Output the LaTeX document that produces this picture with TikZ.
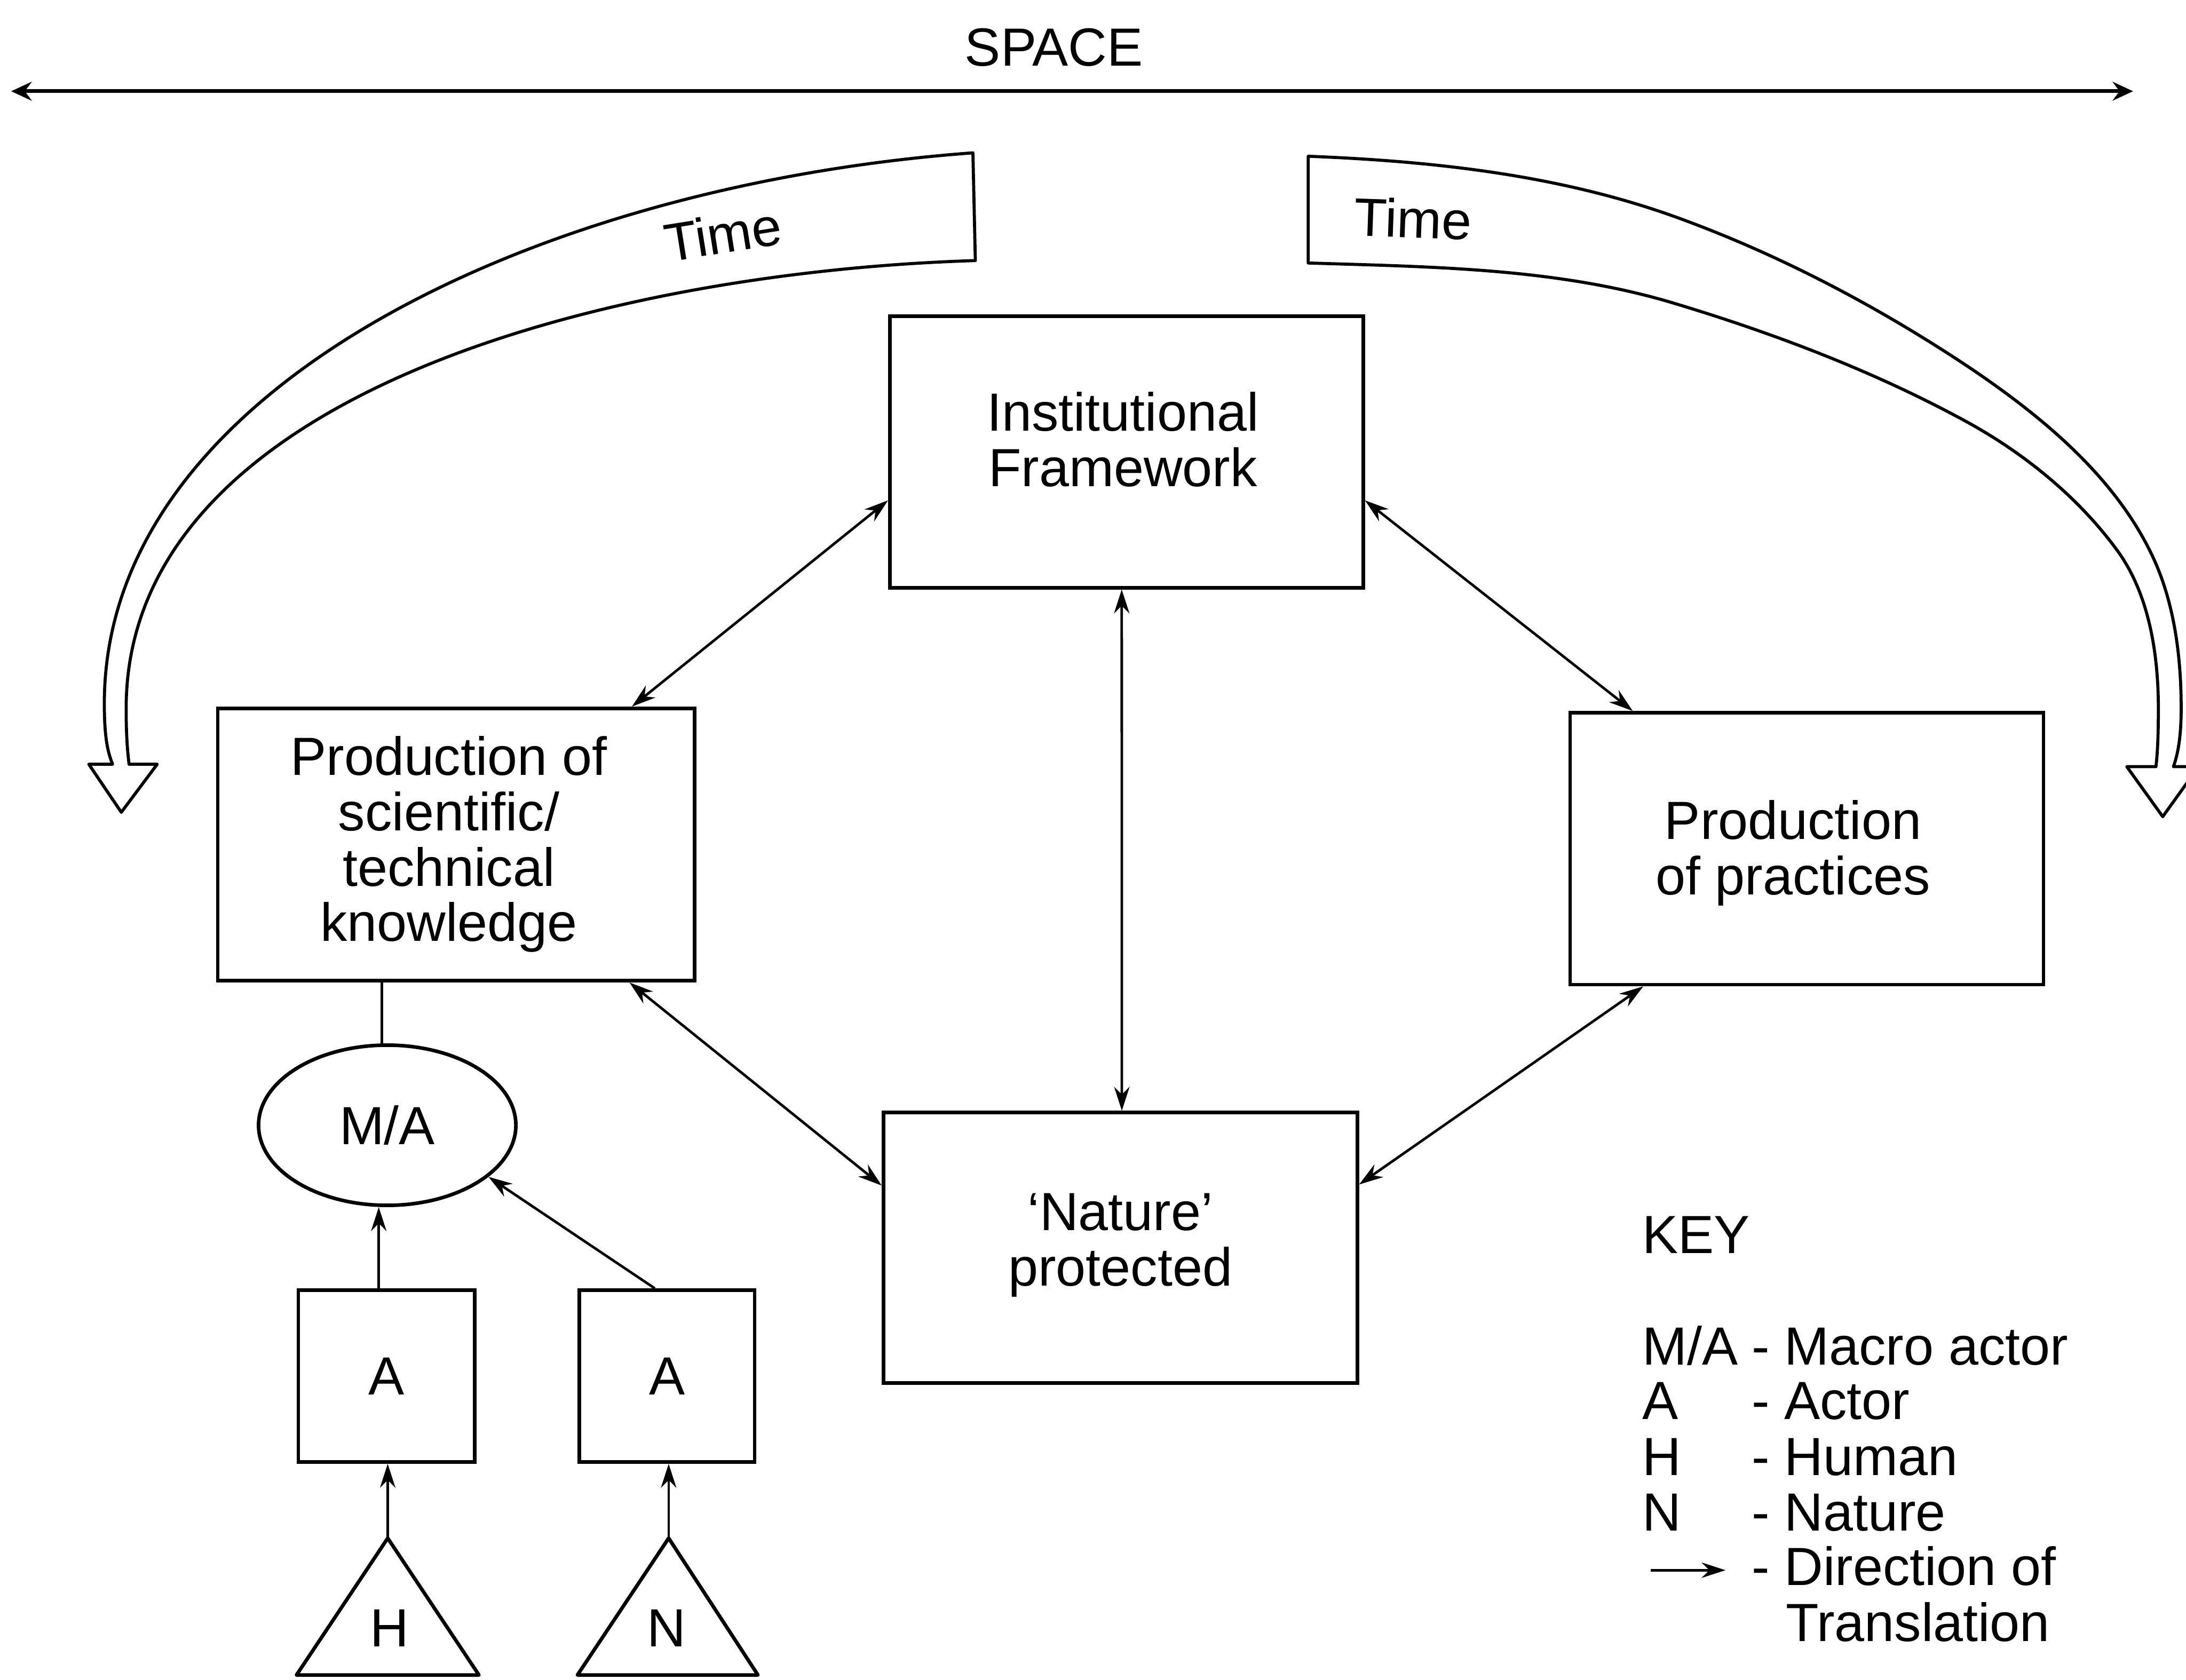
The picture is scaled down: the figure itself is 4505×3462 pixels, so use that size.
\documentclass[tikz,border=0pt]{standalone}
\usepackage{fontspec}
\setmainfont{Liberation Sans}
\usetikzlibrary{arrows.meta,calc,shapes.geometric}
\begin{document}
\begin{tikzpicture}[x=0.01cm,y=-0.01cm,
  every node/.style={font=\fontsize{31.5}{32.5}\selectfont},
  box/.style={draw,line width=2.1pt,inner sep=0pt},
  boxtext/.style={align=center,inner sep=0pt},
  link/.style={line width=1.5pt,{Stealth[length=14pt,width=9pt]}-{Stealth[length=14pt,width=9pt]}},
  flow/.style={line width=1.5pt,-{Stealth[length=14pt,width=9pt]}},
  band/.style={line width=1.8pt,line join=round},
  keyitem/.style={anchor=base west,inner sep=0pt}]
\useasboundingbox (0,0) rectangle (4505,3462);

% space axis
\node (space) at (2172,98) {SPACE};
\coordinate (sl) at (23,188);
\coordinate (sr) at (4396,188);
\draw[line width=2.2pt,{Stealth[length=12pt,width=11pt,inset=4pt]}-{Stealth[length=12pt,width=11pt,inset=4pt]}] (sl) -- (sr);

% main boxes and their captions
\node[box,minimum width=9.75cm,minimum height=5.59cm] (inst) at (2321.5,931.5) {};
\node[boxtext] (insttext) at (2314,906) {Institutional\\Framework};
\node[box,minimum width=9.82cm,minimum height=5.61cm] (sci) at (940,1740.5) {};
\node[boxtext] (scitext) at (925,1740) {Production of\\scientific/\\technical\\knowledge};
\node[box,minimum width=9.75cm,minimum height=5.60cm] (prac) at (3723.5,1749) {};
\node[boxtext] (practext) at (3695,1758) {Production\\of practices};
\node[box,minimum width=9.76cm,minimum height=5.57cm] (nat) at (2309,2571.5) {};
\node[boxtext] (nattext) at (2309,2566) {‘Nature’\\protected};

% links between the main boxes
\draw[link] ($(inst.north west)!0.676!(inst.south west)$) -- ($(sci.north west)!0.866!(sci.north east)$);
\draw[link] ($(inst.north east)!0.676!(inst.south east)$) -- ($(prac.north west)!0.135!(prac.north east)$);
\draw[link] ($(inst.south west)!0.49!(inst.south east)$) -- ($(nat.north west)!0.503!(nat.north east)$);
\draw[link] ($(sci.south west)!0.861!(sci.south east)$) -- ($(nat.north west)!0.273!(nat.south west)$);
\draw[link] ($(prac.south west)!0.157!(prac.south east)$) -- ($(nat.north east)!0.269!(nat.south east)$);

% actor network
\node[draw,ellipse,line width=2.1pt,minimum width=5.3cm,minimum height=3.3cm,inner sep=0pt] (ma) at (798,2319) {M/A};
\node[box,minimum width=3.63cm,minimum height=3.54cm] (a1) at (796.5,2836) {A};
\node[box,minimum width=3.61cm,minimum height=3.54cm] (a2) at (1374.5,2836) {A};

\coordinate (scibase) at ($(sci.south west)!0.345!(sci.south east)$);
\draw[line width=1.5pt] (scibase) -- (scibase |- ma.north);

\coordinate (a1out) at ($(a1.north west)!0.457!(a1.north east)$);
\draw[flow] (a1out) -- (a1out |- ma.south);
\coordinate (a2out) at ($(a2.north west)!0.432!(a2.north east)$);
\draw[flow] (a2out) -- (ma.-27);

\coordinate (htop) at (799,3170);
\coordinate (ntop) at (1378,3170);
\draw[line width=2.1pt,line join=round] (htop) -- (611,3452) -- (987,3452) -- cycle;
\draw[line width=2.1pt,line join=round] (ntop) -- (1190,3452) -- (1562,3452) -- cycle;
\node (hlabel) at (803,3355) {H};
\node (nlabel) at (1374,3355) {N};
\draw[flow] (htop) -- (htop |- a1.south);
\draw[flow] (ntop) -- (ntop |- a2.south);

% time band, left
\draw[band] (2005,315) .. controls (1105,381) and (215,800) .. (215,1450)
  .. controls (215,1520) and (222,1550) .. (232,1575)
  -- (183,1575) -- (250,1674) -- (324,1575) -- (266,1575)
  .. controls (263,1550) and (260,1520) .. (260,1460)
  .. controls (260,810) and (1260,560) .. (2010,537) -- cycle;
\node[rotate=9] (timeleft) at (1490,482) {Time};

% time band, right
\draw[band] (2696,322) .. controls (2951,332) and (3210,360) .. (3450,446)
  .. controls (3664,523) and (3869,631) .. (4058,757)
  .. controls (4205,856) and (4351,976) .. (4430,1134)
  .. controls (4480,1233) and (4495,1349) .. (4495,1460)
  .. controls (4495,1520) and (4488,1555) .. (4479,1580)
  -- (4531,1580) -- (4457,1683) -- (4383,1580) -- (4443,1580)
  .. controls (4446,1555) and (4448,1520) .. (4448,1460)
  .. controls (4448,1348) and (4429,1224) .. (4363,1134)
  .. controls (4284,1026) and (4175,937) .. (4058,872)
  .. controls (3867,767) and (3659,688) .. (3450,625)
  .. controls (3208,552) and (2949,550) .. (2696,542) -- cycle;
\node[rotate=-2] (timeright) at (2912,450) {Time};

% key
\node[keyitem] (key) at (3384,2583) {KEY};
\node[keyitem] (kma) at (3384,2813) {M/A};
\node[keyitem] (kmat) at (3609,2813) {- Macro actor};
\node[keyitem] (ka) at (3384,2925) {A};
\node[keyitem] (kat) at (3609,2925) {- Actor};
\node[keyitem] (kh) at (3384,3040) {H};
\node[keyitem] (kht) at (3609,3040) {- Human};
\node[keyitem] (kn) at (3384,3155) {N};
\node[keyitem] (knt) at (3609,3155) {- Nature};
\coordinate (karrowa) at (3402,3236);
\coordinate (karrowb) at (3556,3236);
\draw[flow] (karrowa) -- (karrowb);
\node[keyitem] (kdt) at (3609,3267) {- Direction of};
\node[keyitem] (kdt2) at (3680,3382) {Translation};
\end{tikzpicture}
\end{document}
